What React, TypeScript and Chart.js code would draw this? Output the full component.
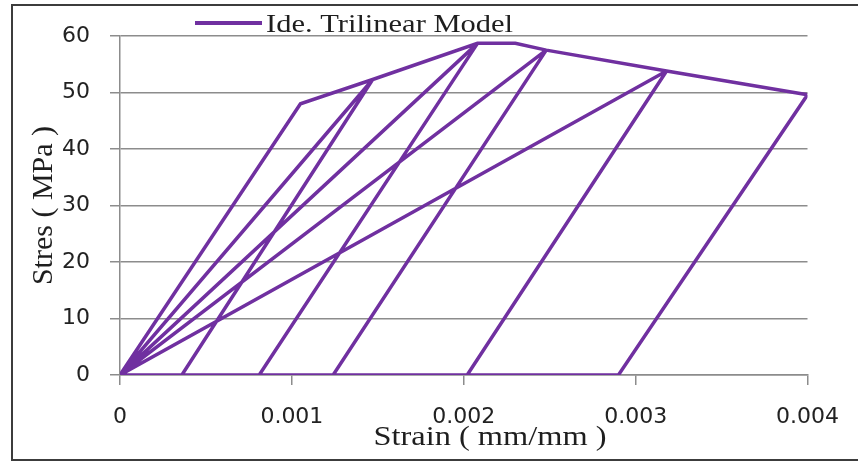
import React, { useEffect, useRef } from "react";
import { Chart, registerables } from "chart.js";

Chart.register(...registerables);

// Envelope of the idealised trilinear model (strain mm/mm, stress MPa)
const envelopeStrain = [0, 0.00105, 0.00147, 0.00208, 0.0023, 0.00248, 0.00318, 0.004];
const envelopeStress = [0, 48, 52.3, 58.7, 58.7, 57.5, 53.8, 49.6];
// Unloading cycles: envelope point index they start from, and residual strain at zero stress
const cyclePeakIndex = [2, 3, 5, 6, 7];
const residualStrain = [0.00036, 0.00081, 0.00124, 0.00202, 0.0029];
// Reloading straight from the origin to the cycle's peak
const reloadFromOrigin = [true, true, true, true, false];

const xTickLabels = ["0", "0.001", "0.002", "0.003", "0.004"];
const yTickLabels = ["0", "10", "20", "30", "40", "50", "60"];

const SERIES_LABEL = "Ide. Trilinear Model";
const X_TITLE = "Strain ( mm/mm )";
const Y_TITLE = "Stres ( MPa )";
const PURPLE = "#7030A0";
const SERIF = '"Liberation Serif", "Times New Roman", serif';

type P = { x: number; y: number | null };

function buildPath(): P[] {
  const pts: P[] = [];
  const gap = () => pts.push({ x: pts.length ? pts[pts.length - 1].x : 0, y: null });
  envelopeStrain.forEach((x, i) => pts.push({ x, y: envelopeStress[i] }));
  gap();
  cyclePeakIndex.forEach((pi, c) => {
    pts.push({ x: envelopeStrain[pi], y: envelopeStress[pi] });
    pts.push({ x: residualStrain[c], y: 0 });
    gap();
    if (reloadFromOrigin[c]) {
      pts.push({ x: 0, y: 0 });
      pts.push({ x: envelopeStrain[pi], y: envelopeStress[pi] });
      gap();
    }
  });
  pts.push({ x: 0, y: 0 });
  pts.push({ x: Math.max(...residualStrain), y: 0 });
  return pts;
}

const textPlugin = {
  id: "legendAndXTitle",
  afterDraw(chart: any) {
    const ctx = chart.ctx;
    const ds = chart.data.datasets[0];
    ctx.save();
    // legend
    ctx.strokeStyle = ds.borderColor;
    ctx.lineWidth = 4;
    ctx.beginPath();
    ctx.moveTo(195, 23);
    ctx.lineTo(262, 23);
    ctx.stroke();
    ctx.save();
    ctx.translate(266, 32);
    ctx.scale(1.22, 1);
    ctx.font = "25px " + SERIF;
    ctx.fillStyle = "#1e1e1e";
    ctx.textBaseline = "alphabetic";
    ctx.textAlign = "left";
    ctx.fillText(ds.label, 0, 0);
    ctx.restore();
    // x axis title
    ctx.save();
    ctx.translate(490, 445);
    ctx.scale(1.2, 1);
    ctx.font = "27px " + SERIF;
    ctx.fillStyle = "#1e1e1e";
    ctx.textBaseline = "alphabetic";
    ctx.textAlign = "center";
    ctx.fillText(X_TITLE, 0, 0);
    ctx.restore();
    ctx.restore();
  },
};

export default function App() {
  const ref = useRef<HTMLCanvasElement | null>(null);
  useEffect(() => {
    if (!ref.current) return;
    const gridColor = "#8c8c8c";
    const chart = new Chart(ref.current, {
      type: "scatter",
      data: {
        datasets: [
          {
            label: SERIES_LABEL,
            data: buildPath() as any,
            showLine: true,
            spanGaps: false,
            borderColor: PURPLE,
            backgroundColor: PURPLE,
            borderWidth: 3.5,
            pointRadius: 0,
            pointHoverRadius: 0,
          },
        ],
      },
      options: {
        responsive: false,
        animation: false,
        events: [],
        layout: { padding: { left: 0, top: 36, right: 46, bottom: 0 } },
        plugins: { legend: { display: false }, tooltip: { enabled: false } },
        scales: {
          x: {
            type: "linear",
            min: 0,
            max: 0.004,
            afterFit: (s: any) => {
              s.height = 92;
            },
            ticks: {
              stepSize: 0.001,
              padding: 19,
              color: "#222",
              font: { family: '"DejaVu Sans", sans-serif', size: 22 },
              callback: (_v: any, i: number) => xTickLabels[i],
            },
            grid: { drawOnChartArea: false, drawTicks: true, tickLength: 10, color: gridColor, lineWidth: 1.5 },
            border: { display: true, color: gridColor, width: 1.5 },
            title: { display: false, text: X_TITLE },
          },
          y: {
            type: "linear",
            min: 0,
            max: 60,
            afterFit: (s: any) => {
              s.width = 120;
            },
            ticks: {
              stepSize: 10,
              padding: 20,
              color: "#222",
              font: { family: '"DejaVu Sans", sans-serif', size: 22 },
              callback: (_v: any, i: number) => yTickLabels[i],
            },
            grid: { drawTicks: true, tickLength: 10, color: gridColor, lineWidth: 1.5 },
            border: { display: true, color: gridColor, width: 1.5 },
            title: {
              display: true,
              text: Y_TITLE,
              color: "#1e1e1e",
              font: { family: SERIF, size: 30 },
              padding: { top: 26, bottom: 0 },
            },
          },
        },
      },
      plugins: [textPlugin],
    });
    return () => chart.destroy();
  }, []);

  return (
    <div style={{ position: "fixed", left: 0, top: 0, width: 858, height: 467, background: "#fff", overflow: "hidden" }}>
      <canvas ref={ref} width={858} height={467} style={{ position: "absolute", left: 0, top: 0 }} />
      <div
        style={{
          position: "absolute",
          left: 11,
          top: 4,
          width: 900,
          height: 453,
          border: "2px solid #3c3c3c",
          pointerEvents: "none",
        }}
      />
    </div>
  );
}
